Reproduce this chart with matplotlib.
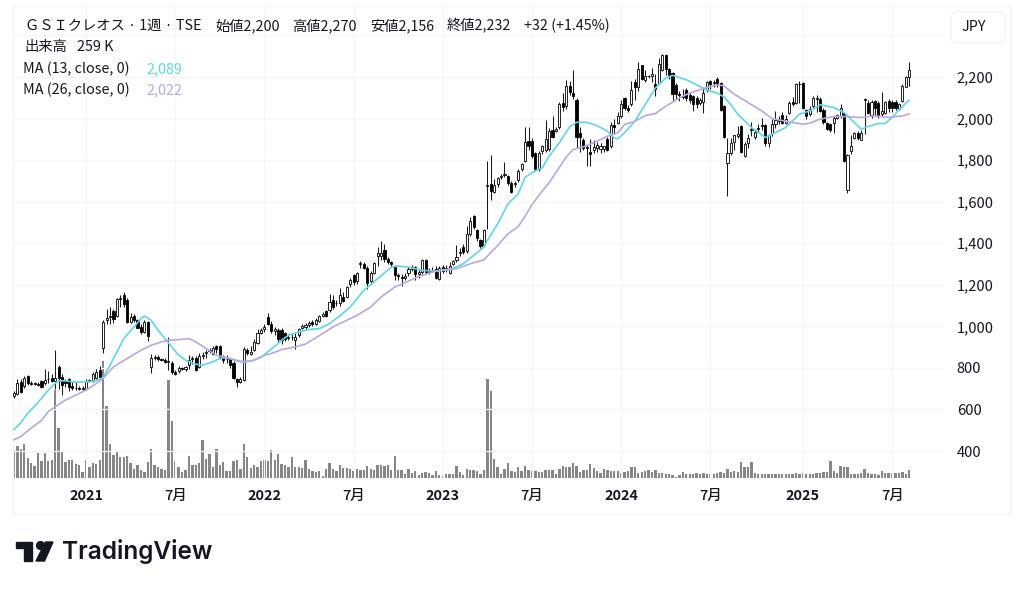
import matplotlib
matplotlib.use("Agg")
import matplotlib.pyplot as plt
from matplotlib.patches import Rectangle, Polygon, FancyBboxPatch

plt.rcParams['font.family'] = ['Noto Sans CJK JP', 'DejaVu Sans']

W, H = 1024, 590

# weekly candles, oldest first (10 per row)
opens = [
    665, 675, 733, 715, 760, 728, 725, 722, 735, 725,
    745, 752, 735, 805, 755, 735, 745, 715, 705, 702,
    700, 700, 738, 738, 750, 790, 898, 1030, 1045, 1072,
    1050, 1130, 1152, 1128, 1020, 1048, 1030, 995, 972, 1020,
    805, 850, 852, 843, 840, 828, 825, 782, 785, 798,
    795, 815, 843, 850, 805, 858, 870, 880, 865, 905,
    905, 853, 845, 845, 825, 745, 732, 742, 885, 868,
    885, 920, 970, 985, 1045, 1013, 978, 980, 980, 968,
    945, 950, 936, 958, 990, 995, 1005, 1020, 1010, 1028,
    1050, 1072, 1077, 1128, 1110, 1112, 1140, 1142, 1205, 1245,
    1220, 1300, 1300, 1282, 1218, 1255, 1340, 1340, 1365, 1325,
    1310, 1288, 1245, 1237, 1235, 1255, 1278, 1285, 1253, 1260,
    1320, 1263, 1268, 1277, 1230, 1285, 1272, 1255, 1302, 1318,
    1355, 1380, 1362, 1442, 1532, 1464, 1415, 1393, 1675, 1683,
    1646, 1683, 1720, 1730, 1723, 1690, 1684, 1704, 1758, 1798,
    1892, 1892, 1835, 1758, 1843, 1851, 1854, 1944, 1940, 1958,
    2075, 2059, 2158, 2123, 2091, 1931, 1899, 1865, 1838, 1851,
    1860, 1852, 1855, 1904, 1867, 1971, 1979, 2014, 2099, 2051,
    2072, 2174, 2152, 2256, 2184, 2205, 2206, 2168, 2171, 2235,
    2307, 2238, 2219, 2163, 2120, 2110, 2136, 2115, 2107, 2099,
    2075, 2078, 2139, 2179, 2172, 2190, 2171, 2062, 1787, 1835,
    1885, 1915, 1965, 1821, 1882, 1945, 1909, 1955, 1968, 1968,
    1882, 1930, 1973, 1990, 2016, 1981, 2026, 2080, 2077, 2165,
    2173, 2042, 2021, 2061, 2096, 2096, 2042, 1981, 1973, 1981,
    2005, 2010, 2026, 1655, 1845, 1905, 1930, 1898, 2090, 2074,
    2016, 2083, 2077, 2021, 2026, 2085, 2082, 2080, 2048, 2085,
    2154, 2200,
]
highs = [
    690, 745, 745, 760, 765, 735, 730, 730, 740, 794,
    785, 770, 885, 815, 770, 745, 750, 730, 730, 712,
    712, 745, 745, 780, 795, 810, 1030, 1085, 1095, 1085,
    1137, 1150, 1165, 1135, 1065, 1060, 1035, 1010, 1030, 1025,
    865, 860, 860, 850, 848, 949, 835, 790, 810, 805,
    810, 860, 858, 855, 870, 875, 885, 895, 905, 910,
    910, 860, 860, 850, 835, 750, 755, 900, 895, 905,
    940, 985, 990, 1010, 1065, 1025, 995, 990, 990, 975,
    965, 965, 970, 990, 1010, 1015, 1025, 1030, 1040, 1055,
    1070, 1078, 1155, 1150, 1125, 1185, 1165, 1195, 1235, 1250,
    1262, 1315, 1310, 1290, 1265, 1312, 1380, 1412, 1395, 1335,
    1315, 1295, 1255, 1250, 1255, 1290, 1295, 1290, 1272, 1325,
    1325, 1280, 1285, 1290, 1290, 1295, 1295, 1310, 1320, 1393,
    1375, 1395, 1485, 1525, 1535, 1470, 1420, 1470, 1795, 1827,
    1710, 1720, 1735, 1790, 1730, 1700, 1700, 1755, 1785, 1960,
    1960, 1905, 1840, 1845, 1875, 1995, 1955, 2010, 1960, 2080,
    2123, 2185, 2180, 2235, 2100, 1960, 1905, 1875, 1900, 1895,
    1885, 1880, 1870, 1910, 1985, 2000, 2030, 2090, 2105, 2065,
    2180, 2190, 2270, 2260, 2235, 2210, 2245, 2215, 2290, 2310,
    2312, 2245, 2225, 2170, 2135, 2140, 2145, 2125, 2115, 2110,
    2100, 2145, 2180, 2185, 2185, 2198, 2175, 2065, 1905, 1905,
    1920, 1965, 1970, 1885, 1925, 1985, 1950, 1975, 2005, 1975,
    1925, 2000, 2035, 2010, 2030, 2015, 2085, 2105, 2170, 2180,
    2178, 2048, 2060, 2110, 2112, 2105, 2050, 1985, 1980, 2010,
    2020, 2070, 2030, 1830, 1920, 1935, 1940, 1945, 2100, 2090,
    2090, 2090, 2085, 2130, 2085, 2095, 2090, 2090, 2075, 2165,
    2205, 2270,
]
lows = [
    655, 670, 680, 705, 720, 718, 716, 712, 705, 720,
    725, 730, 700, 700, 670, 710, 690, 695, 695, 693,
    695, 695, 730, 730, 745, 740, 872, 1010, 1010, 1015,
    1045, 1095, 1095, 1015, 1015, 1020, 990, 965, 968, 930,
    775, 840, 835, 832, 822, 790, 770, 765, 775, 790,
    785, 795, 820, 785, 800, 845, 850, 870, 860, 870,
    845, 825, 825, 800, 745, 710, 725, 735, 860, 860,
    880, 915, 965, 975, 1005, 970, 960, 925, 915, 930,
    935, 935, 890, 950, 985, 985, 995, 1003, 1005, 1020,
    1045, 1045, 1070, 1085, 1100, 1100, 1115, 1135, 1190, 1200,
    1205, 1280, 1275, 1180, 1205, 1250, 1290, 1320, 1310, 1300,
    1285, 1225, 1225, 1195, 1222, 1240, 1265, 1225, 1232, 1250,
    1250, 1250, 1260, 1230, 1225, 1258, 1262, 1250, 1295, 1310,
    1340, 1350, 1355, 1435, 1470, 1410, 1375, 1385, 1470, 1610,
    1640, 1670, 1710, 1720, 1680, 1640, 1670, 1695, 1750, 1790,
    1850, 1810, 1750, 1750, 1830, 1840, 1845, 1905, 1935, 1950,
    2035, 2045, 2115, 2095, 1860, 1840, 1850, 1771, 1770, 1835,
    1840, 1835, 1840, 1845, 1860, 1925, 1975, 2005, 2040, 2030,
    2060, 2090, 2135, 2185, 2175, 2195, 2175, 2110, 2165, 2230,
    2210, 2190, 2085, 2095, 2085, 2095, 2085, 2075, 2035, 2050,
    2065, 2025, 2130, 2140, 2150, 2150, 2035, 1905, 1625, 1825,
    1850, 1905, 1835, 1815, 1860, 1915, 1900, 1935, 1945, 1870,
    1865, 1915, 1955, 1975, 1975, 1975, 2020, 2060, 2070, 2075,
    2048, 2000, 2010, 2050, 2030, 2030, 1975, 1945, 1935, 1930,
    2000, 2005, 1790, 1640, 1830, 1900, 1895, 1895, 1925, 2020,
    2005, 2010, 2005, 2010, 2020, 2030, 2030, 2040, 2040, 2080,
    2150, 2156,
]
closes = [
    680, 728, 685, 752, 725, 724, 722, 720, 708, 742,
    748, 738, 750, 750, 718, 725, 708, 702, 703, 700,
    703, 738, 740, 770, 780, 755, 1020, 1042, 1050, 1035,
    1133, 1135, 1108, 1020, 1045, 1030, 992, 972, 1020, 952,
    850, 852, 843, 840, 830, 835, 781, 772, 798, 796,
    802, 840, 850, 792, 855, 860, 875, 885, 897, 893,
    853, 840, 842, 812, 750, 730, 745, 893, 870, 878,
    925, 968, 982, 998, 1013, 978, 985, 940, 935, 940,
    950, 948, 950, 985, 1000, 1005, 1015, 1010, 1032, 1050,
    1058, 1052, 1115, 1092, 1112, 1152, 1122, 1190, 1225, 1212,
    1255, 1305, 1282, 1208, 1255, 1305, 1352, 1355, 1325, 1310,
    1298, 1245, 1240, 1235, 1240, 1277, 1282, 1253, 1260, 1320,
    1260, 1265, 1272, 1235, 1282, 1265, 1280, 1292, 1314, 1335,
    1358, 1357, 1445, 1505, 1480, 1425, 1388, 1464, 1680, 1651,
    1678, 1715, 1725, 1735, 1690, 1648, 1692, 1747, 1779, 1888,
    1867, 1820, 1755, 1835, 1867, 1902, 1942, 1912, 1948, 2070,
    2056, 2158, 2126, 2110, 1912, 1912, 1860, 1860, 1830, 1864,
    1874, 1867, 1867, 1851, 1971, 1958, 2014, 2070, 2051, 2040,
    2139, 2152, 2238, 2190, 2203, 2206, 2214, 2144, 2264, 2307,
    2238, 2211, 2120, 2120, 2112, 2105, 2099, 2091, 2072, 2072,
    2090, 2123, 2174, 2166, 2175, 2166, 2040, 1912, 1835, 1883,
    1920, 1925, 1840, 1877, 1907, 1950, 1936, 1950, 1965, 1882,
    1922, 1973, 1992, 1997, 1981, 2000, 2077, 2069, 2165, 2168,
    2053, 2010, 2045, 2101, 2100, 2037, 1984, 1952, 1946, 2005,
    2015, 2053, 1797, 1825, 1870, 1930, 1905, 1930, 2095, 2026,
    2080, 2053, 2013, 2037, 2080, 2053, 2053, 2053, 2069, 2157,
    2200, 2232,
]
# weekly volume in thousands
volumes = [
    896, 1026, 950, 1091, 659, 486, 400, 810, 551, 810,
    551, 594, 2840, 1620, 875, 518, 572, 594, 464, 410,
    194, 594, 356, 486, 443, 594, 3791, 2322, 1091, 756,
    875, 680, 680, 702, 497, 281, 410, 248, 184, 518,
    950, 410, 356, 302, 270, 3186, 1847, 551, 356, 194,
    248, 702, 432, 432, 497, 1220, 605, 788, 356, 950,
    432, 518, 227, 227, 551, 572, 302, 1091, 680, 335,
    432, 356, 551, 572, 551, 918, 594, 767, 464, 410,
    356, 680, 356, 356, 324, 594, 292, 238, 184, 238,
    76, 292, 486, 292, 216, 410, 324, 324, 302, 216,
    302, 270, 248, 378, 292, 270, 410, 410, 400, 432,
    270, 702, 270, 270, 140, 292, 162, 238, 108, 162,
    184, 162, 108, 216, 108, 54, 140, 140, 140, 378,
    184, 108, 292, 270, 270, 238, 140, 270, 3208, 2808,
    616, 346, 140, 302, 475, 238, 184, 346, 216, 400,
    270, 238, 216, 184, 205, 270, 270, 248, 140, 292,
    378, 356, 346, 486, 378, 184, 270, 270, 454, 324,
    216, 162, 292, 270, 238, 238, 216, 162, 194, 238,
    346, 346, 162, 184, 216, 248, 184, 248, 162, 162,
    140, 140, 108, 43, 86, 194, 140, 130, 130, 151,
    130, 162, 140, 130, 130, 162, 184, 162, 302, 194,
    216, 194, 508, 346, 346, 518, 162, 130, 130, 140,
    130, 140, 130, 119, 130, 119, 140, 130, 151, 119,
    162, 119, 130, 140, 162, 151, 184, 184, 540, 216,
    162, 378, 356, 356, 130, 130, 140, 151, 292, 162,
    130, 119, 108, 216, 162, 151, 151, 162, 173, 194,
    140, 259,
]

# moving averages, read at every few weeks
ma13_weeks = [0, 2, 4, 6, 8, 10, 12, 13, 15, 18, 21, 24, 26, 28, 30, 32, 35, 37, 38, 40,
              42, 44, 46, 48, 50, 53, 55, 58, 60, 62, 64, 66, 69, 72, 74, 76, 78, 80, 83,
              86, 89, 92, 95, 98, 102, 106, 110, 112, 115, 119, 123, 127, 131, 134, 137, 138, 141,
              144, 147, 149, 152, 154, 156, 159, 162, 164, 167, 170, 173, 175, 176, 178, 181, 184,
              187, 190, 192, 196, 199, 202, 205, 207, 209, 211, 215, 219, 221, 225, 229, 232,
              235, 239, 242, 245, 247, 249, 252, 254, 256, 258, 261]
ma13_values = [504, 536, 581, 616, 653, 693, 725, 738, 738, 731, 733, 738, 754, 813, 877, 941, 997, 1037, 1050, 1029,
               981, 941, 901, 861, 837, 818, 813, 829, 846, 850, 840, 829, 832, 850, 877, 904, 933, 957, 973,
               985, 989, 1013, 1050, 1093, 1173, 1229, 1285, 1290, 1285, 1269, 1266, 1272, 1301, 1341, 1381, 1413, 1493,
               1589, 1637, 1717, 1749, 1763, 1819, 1883, 1960, 1982, 1982, 1966, 1939, 1907, 1902, 1931, 1987, 2067,
               2147, 2195, 2208, 2187, 2163, 2136, 2123, 2104, 2067, 2021, 1957, 1909, 1925, 1957, 2021, 2037,
               2066, 2053, 2029, 1981, 1949, 1962, 1976, 1976, 2005, 2042, 2089]
ma26_weeks = [0, 2, 5, 8, 10, 12, 15, 18, 21, 24, 26, 29, 33, 37, 40, 43, 45, 48, 51, 53, 56, 59, 62, 64, 67, 70,
              73, 75, 78, 82, 85, 89, 93, 96, 100, 104, 107, 111, 114, 118, 122, 125, 129, 133, 137, 141, 144, 147,
              149, 151, 153, 156, 159, 161, 163, 166, 170, 173, 176, 178, 181, 184, 187, 190, 194, 197, 201, 205,
              207, 210, 214, 218, 221, 226, 230, 232, 235, 239, 242, 247, 251, 255, 259, 261]
ma26_values = [454, 470, 510, 547, 590, 613, 645, 669, 693, 725, 749, 805, 845, 885, 909, 925, 933, 936, 941, 925, 893, 861,
               850, 840, 829, 837, 861, 869, 888, 901, 915, 955, 997, 1021, 1053, 1093, 1141, 1189, 1210, 1240, 1261, 1272,
               1277, 1301, 1320, 1389, 1445, 1480, 1530, 1585, 1630, 1691, 1765, 1815, 1851, 1864, 1891, 1915, 1931, 1971, 1987,
               2014, 2024, 2059, 2099, 2123, 2144, 2163, 2157, 2117, 2077, 2037, 2000, 1984, 1973, 1978, 1997, 2010, 2010,
               2005, 2013, 2005, 2013, 2022]

price_ticks = [400, 600, 800, 1000, 1200, 1400, 1600, 1800, 2000, 2200, 2400]
price_labels = ['400', '600', '800', '1,000', '1,200', '1,400', '1,600', '1,800', '2,000', '2,200', '']
time_ticks = [21, 47, 73, 99, 125, 151, 177, 203, 230, 256]
time_labels = ['2021', '7月', '2022', '7月', '2023', '7月', '2024', '7月', '2025', '7月']

TEXT = '#131722'
GRID = '#f5f6f9'
BORDER = '#f0f3fa'
CYAN = '#5fd6e8'
PURPLE = '#b9a6e4'
GRAY = '#868686'


def px_box(left, top, right, bottom):
    return [left / W, 1 - bottom / H, (right - left) / W, (bottom - top) / H]


def fx(x):
    return x / W


def fy(y):
    return 1 - y / H


fig = plt.figure(figsize=(W / 100, H / 100), dpi=100, facecolor='white')

# outer frame
fig.add_artist(Rectangle((fx(13), fy(514)), (1011 - 13) / W, (514 - 6) / H, transform=fig.transFigure,
                         fill=False, edgecolor=BORDER, linewidth=1.0))

ax = fig.add_axes(px_box(13, 6, 945, 481))
ax.set_facecolor('none')
# one week is 3.43 px, first bar at px 14
ax.set_xlim((13 - 14) / 3.43, (945 - 14) / 3.43)
# 0.20778 px per yen, 2200 sits at px 77
ax.set_ylim(2200 - (481 - 77) / 0.20778, 2200 + (77 - 6) / 0.20778)

# volume shares the pane with its own scale, zero at px 478
vax = ax.twinx()
vax.set_ylim(-3 * 32.4, (478 - 6) * 32.4)
vax.set_yticks([])
for side in vax.spines.values():
    side.set_visible(False)
vax.bar(range(len(volumes)), volumes, width=0.68, color=GRAY, linewidth=0, zorder=2)

ax.set_zorder(vax.get_zorder() + 1)
ax.set_axisbelow(True)
ax.grid(True, color=GRID, linewidth=0.9)
vax.patch.set_visible(False)

weeks = list(range(len(closes)))
ax.vlines(weeks, lows, highs, color='#1a1a1a', linewidth=0.75, zorder=3)
for i in weeks:
    up = closes[i] >= opens[i]
    bottom = min(opens[i], closes[i])
    height = max(abs(closes[i] - opens[i]), 2)
    ax.bar(i, height, bottom=bottom, width=0.62, color='white' if up else 'black',
           edgecolor='black', linewidth=0.6, zorder=4)

ax.plot(ma13_weeks, ma13_values, color=CYAN, linewidth=1.2, zorder=5)
ax.plot(ma26_weeks, ma26_values, color=PURPLE, linewidth=1.2, zorder=5)

ax.yaxis.tick_right()
ax.set_yticks(price_ticks, price_labels)
ax.tick_params(axis='y', length=0, pad=8.5, labelsize=10.6, labelcolor=TEXT)
ax.set_xticks(time_ticks, time_labels)
ax.tick_params(axis='x', length=0, pad=6, labelsize=10.4, labelcolor=TEXT)
for label, text in zip(ax.get_xticklabels(), time_labels):
    label.set_fontweight('bold' if text != '7月' else 'medium')
for side in ax.spines.values():
    side.set_visible(False)

# header
fs = 10.3
for x, text in [(25, 'ＧＳＩクレオス · 1週 · TSE'), (215, '始値2,200'), (292, '高値2,270'),
                (370, '安値2,156'), (447, '終値2,232'), (524, '+32 (+1.45%)')]:
    fig.text(fx(x), fy(26), text, fontsize=fs, color=TEXT, va='center')
fig.text(fx(24), fy(47), '出来高', fontsize=fs, color=TEXT, va='center')
fig.text(fx(77), fy(47), '259 K', fontsize=fs, color=TEXT, va='center')
fig.text(fx(23), fy(69), 'MA (13, close, 0)', fontsize=fs, color=TEXT, va='center')
fig.text(fx(146), fy(69), '2,089', fontsize=fs, color=CYAN, va='center')
fig.text(fx(23), fy(90), 'MA (26, close, 0)', fontsize=fs, color=TEXT, va='center')
fig.text(fx(146), fy(90), '2,022', fontsize=fs, color=PURPLE, va='center')

# currency button
fig.add_artist(FancyBboxPatch((fx(951), fy(43)), 54 / W, 31 / H, transform=fig.transFigure,
                              boxstyle='round,pad=0,rounding_size=0.006', mutation_aspect=1.7,
                              facecolor='white', edgecolor=BORDER, linewidth=1.0))
fig.text(fx(974), fy(27), 'JPY', fontsize=10.3, color=TEXT, ha='center', va='center')

# TradingView logo
logo = [
    Polygon([(fx(15.5), fy(542)), (fx(32), fy(542)), (fx(32), fy(561)), (fx(23.5), fy(561)),
             (fx(23.5), fy(548)), (fx(15.5), fy(548))], transform=fig.transFigure, color='#131722'),
    Polygon([(fx(53), fy(542)), (fx(45.5), fy(542)), (fx(36), fy(561)), (fx(44.5), fy(561))],
            transform=fig.transFigure, color='#131722'),
]
for part in logo:
    fig.add_artist(part)
fig.add_artist(plt.Line2D([fx(39.7)], [fy(545)], marker='o', markersize=5.6, color='#131722',
                          transform=fig.transFigure))
fig.text(fx(62), fy(552), 'TradingView', fontsize=17.6, fontweight='semibold', color='#131722',
         family='Inter', va='center')

fig.savefig('out.png', dpi=100)
